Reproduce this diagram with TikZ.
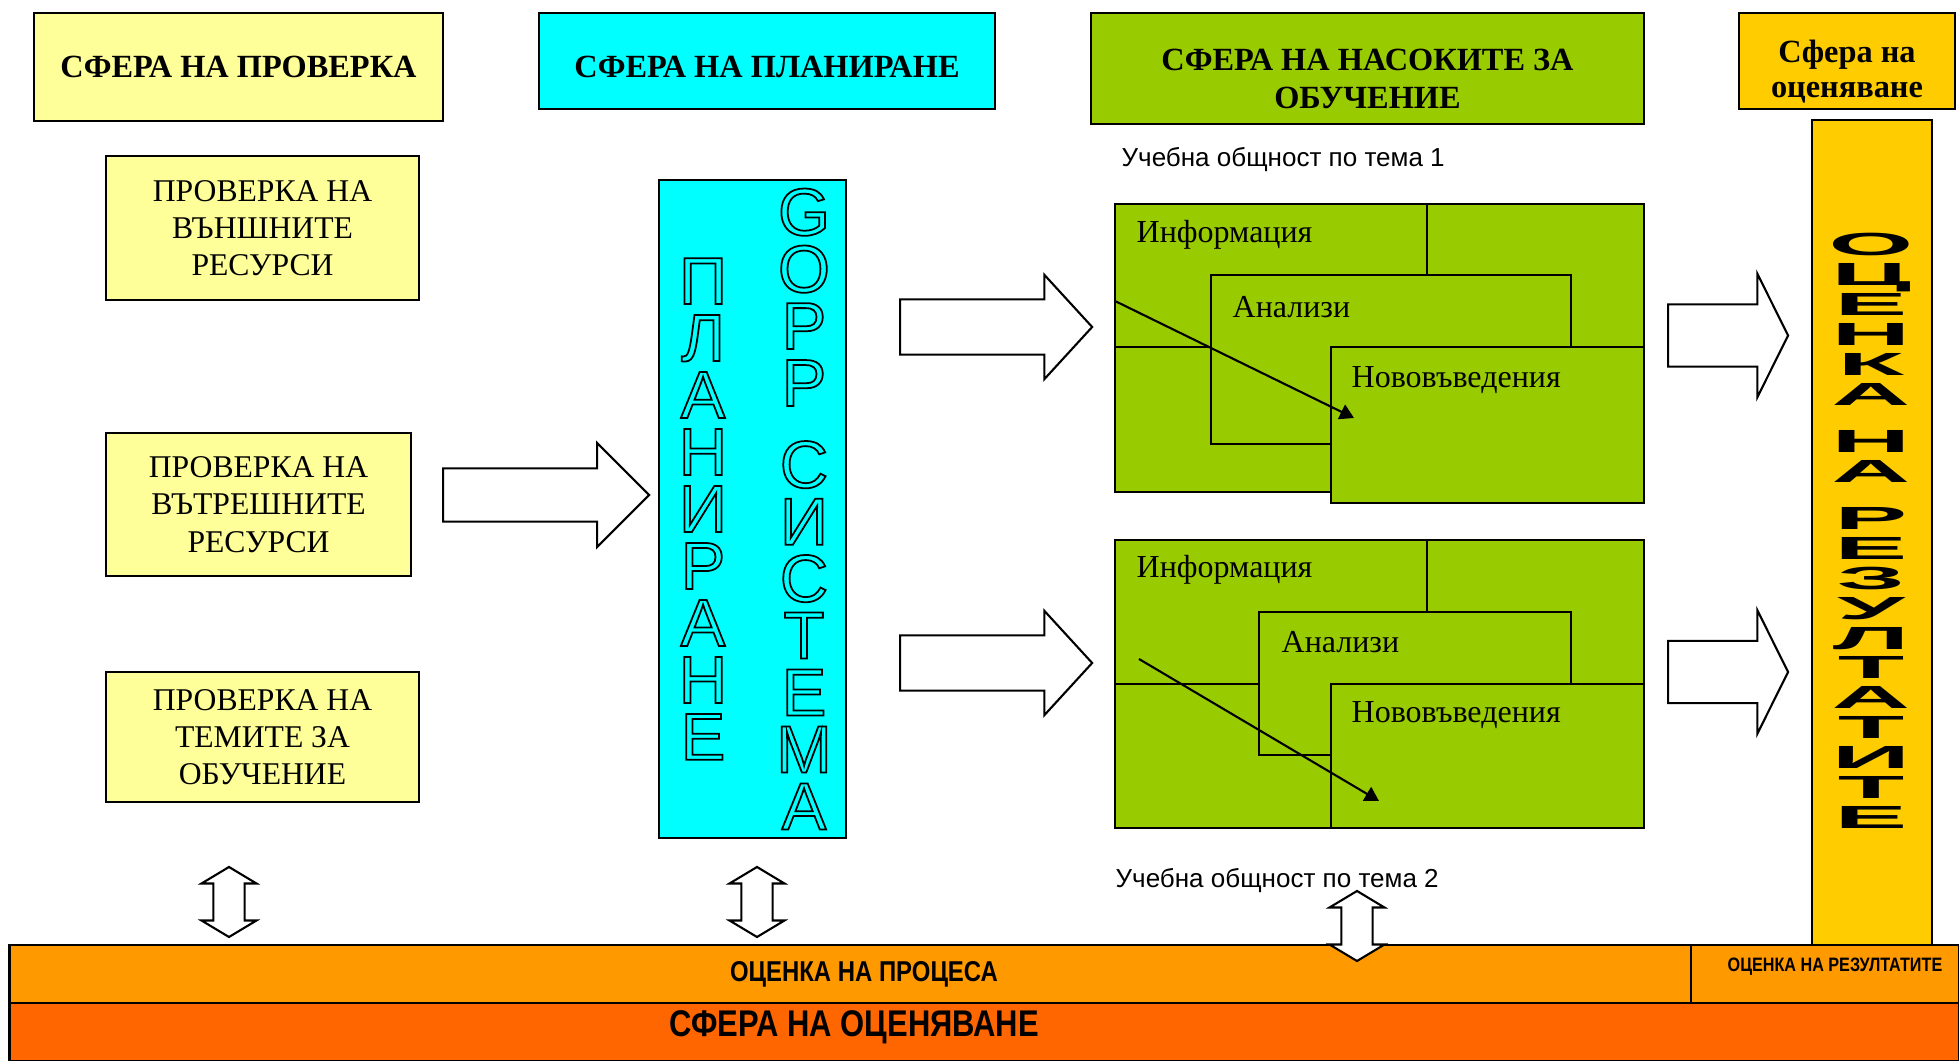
\documentclass[tikz,border=0pt]{standalone}
\usepackage{fontspec}
\setmainfont{Liberation Serif}
\setsansfont{Liberation Sans}
\usetikzlibrary{shapes.arrows,arrows.meta}

\begin{document}
\begin{tikzpicture}[x=0.01cm, y=-0.01cm]
      \useasboundingbox (0,0) rectangle (1959,1061);

      % Define colors
      \definecolor{checkcol}{RGB}{255,255,153}
      \definecolor{plancol}{RGB}{0,255,255}
      \definecolor{topiccol}{RGB}{153,204,0}
      \definecolor{evalcol}{RGB}{255,204,0}
      \definecolor{processcol}{RGB}{255,153,0}
      \definecolor{spherecol}{RGB}{255,102,0}

      % Define line width
      \def\lw{0.6pt}

      % Styles
      \tikzset{
        box/.style={draw, line width=\lw, inner sep=0pt, align=center},
        hdrtext/.style={inner sep=0pt, align=center, font=\bfseries\fontsize{9.2}{10.7}\selectfont},
        chk/.style={box, fill=checkcol, font=\fontsize{9}{10.6}\selectfont},
        grp/.style={draw, line width=\lw, fill=topiccol},
        lbl/.style={inner sep=0pt, anchor=west, font=\fontsize{9.1}{11}\selectfont},
        topic/.style={inner sep=0pt, anchor=west, font=\sffamily\fontsize{7.4}{9}\selectfont},
        bigarrow/.style={draw, line width=\lw, fill=white, single arrow, inner xsep=0pt, anchor=tail},
        updown/.style={draw, line width=\lw, fill=white, double arrow, inner xsep=0pt, inner ysep=1.45mm, rotate=90,
          minimum height=7mm, minimum width=5.3mm, double arrow head extend=1.2mm, double arrow tip angle=118},
        hollow/.style={align=center, inner sep=0pt, font=\sffamily\fontsize{19}{16.2}\selectfont,
          execute at begin node={\special{pdf:literal direct 1 Tr 0.5 w}},
          execute at end node={\special{pdf:literal direct 0 Tr}}},
        band/.style={draw, line width=0.8pt, inner sep=0pt},
        bandtext/.style={inner sep=0pt, yscale=1.2, transform shape, font=\sffamily\bfseries\fontsize{6.8}{8}\selectfont}
      }

      % Header boxes
      \node[box, fill=checkcol, minimum width=40.9mm, minimum height=10.8mm] (hcheck) at (238.5,67) {};
      \node[box, fill=plancol, minimum width=45.6mm, minimum height=9.6mm] (hplan) at (767,61) {};
      \node[box, fill=topiccol, minimum width=55.3mm, minimum height=11.1mm] (htopic) at (1367.5,68.5) {};
      \node[box, fill=evalcol, minimum width=21.6mm, minimum height=9.6mm] (heval) at (1847,61) {};
      \node[hdrtext] (hchecktext) at (238.5,67) {СФЕРА НА ПРОВЕРКА};
      \node[hdrtext] (hplantext) at (767,67) {СФЕРА НА ПЛАНИРАНЕ};
      \node[hdrtext] (htopictext) at (1367.5,79) {СФЕРА НА НАСОКИТЕ ЗА\\ОБУЧЕНИЕ};
      \node[hdrtext, font=\bfseries\fontsize{9.2}{10}\selectfont] (hevaltext) at (1847,72) {Сфера на\\оценяване};

      % Check boxes
      \node[chk, minimum width=31.3mm, minimum height=14.4mm] (cext) at (262.5,228) {ПРОВЕРКА НА\\ВЪНШНИТЕ\\РЕСУРСИ};
      \node[chk, minimum width=30.5mm, minimum height=14.3mm] (cint) at (258.5,504.5) {ПРОВЕРКА НА\\ВЪТРЕШНИТЕ\\РЕСУРСИ};
      \node[chk, minimum width=31.3mm, minimum height=13mm] (ctop) at (262.5,737) {ПРОВЕРКА НА\\ТЕМИТЕ ЗА\\ОБУЧЕНИЕ};

      % Arrow to planning
      \node[bigarrow, inner ysep=2.55mm, minimum height=20.6mm, minimum width=10.2mm, single arrow head extend=2.55mm, single arrow tip angle=90] (toplan) at (442,495) {};

      % Planning column
      \node[box, fill=plancol, minimum width=18.7mm, minimum height=65.8mm] (plan) at (752.5,509) {};
      \node[hollow] (planword) at (703,509) {П\\Л\\А\\Н\\И\\Р\\А\\Н\\Е};
      \node[hollow] (gopp) at (804,509) {G\\O\\P\\P\\[7pt]С\\И\\С\\Т\\Е\\М\\А};

      % Arrows to topics
      \node[bigarrow, inner ysep=2.65mm, minimum height=19.2mm, minimum width=10.2mm, single arrow head extend=2.45mm, single arrow tip angle=95] (totopA) at (899,327) {};
      \node[bigarrow, inner ysep=2.65mm, minimum height=19.2mm, minimum width=10.2mm, single arrow head extend=2.45mm, single arrow tip angle=95] (totopB) at (899,663) {};

      % Topic 1
      \node[topic] (topicA) at (1121,160) {Учебна общност по тема 1};
      \draw[grp] (1115,204) rectangle (1644,492);
      \draw[line width=\lw] (1427,204) -- (1427,492) (1115,347) -- (1644,347);
      \draw[grp] (1211,275) rectangle (1571,444);
      \draw[grp] (1331,347) rectangle (1644,503);
      \node[lbl] (infoA) at (1136,235) {Информация};
      \node[lbl] (anA) at (1232,307) {Анализи};
      \node[lbl] (novA) at (1351,380) {Нововъведения};
      \coordinate (fromA) at (1115,301);
      \coordinate (intoA) at (1354,418);
      \draw[line width=\lw, -{Triangle[width=1.6mm, length=1.4mm]}] (fromA) -- (intoA);

      % Topic 2
      \draw[grp] (1115,540) rectangle (1644,828);
      \draw[line width=\lw] (1427,540) -- (1427,828) (1115,684) -- (1644,684);
      \draw[grp] (1259,612) rectangle (1571,755);
      \draw[grp] (1331,684) rectangle (1644,828);
      \node[lbl] (infoB) at (1136,570) {Информация};
      \node[lbl] (anB) at (1281,642) {Анализи};
      \node[lbl] (novB) at (1351,715) {Нововъведения};
      \coordinate (fromB) at (1139,659);
      \coordinate (intoB) at (1379,801);
      \draw[line width=\lw, -{Triangle[width=1.6mm, length=1.4mm]}] (fromB) -- (intoB);
      \node[topic] (topicB) at (1115,881) {Учебна общност по тема 2};

      % Arrows to results
      \node[bigarrow, inner ysep=3mm, minimum height=12mm, minimum width=12.1mm, single arrow head extend=3.05mm, single arrow tip angle=127] (toresA) at (1667,335.5) {};
      \node[bigarrow, inner ysep=3mm, minimum height=12mm, minimum width=12.1mm, single arrow head extend=3.05mm, single arrow tip angle=127] (toresB) at (1667,672) {};

      % Results column
      \node[box, fill=evalcol, minimum width=12mm, minimum height=82.6mm] (res) at (1872,533) {};
      \node[align=center, inner sep=0pt, xscale=3.4, transform shape,
            font=\sffamily\bfseries\fontsize{9.1}{8.5}\selectfont] (resword) at (1871,531)
            {О\\Ц\\Е\\Н\\К\\А\\[4.9pt]Н\\А\\[4.9pt]Р\\Е\\З\\У\\Л\\Т\\А\\Т\\И\\Т\\Е};

      % Evaluation bands
      \node[band, fill=processcol, minimum width=168.1mm, minimum height=5.8mm] (proc) at (850.5,974) {};
      \node[band, fill=processcol, minimum width=26.8mm, minimum height=5.8mm] (resc) at (1825,974) {};
      \node[band, fill=spherecol, minimum width=194.9mm, minimum height=5.8mm] (sphere) at (984.5,1032) {};
      \node[bandtext] (proctext) at (864,974) {ОЦЕНКА НА ПРОЦЕСА};
      \node[bandtext, font=\sffamily\bfseries\fontsize{4.6}{6}\selectfont] (restext) at (1835,967) {ОЦЕНКА НА РЕЗУЛТАТИТЕ};
      \node[bandtext, font=\sffamily\bfseries\fontsize{8.8}{10}\selectfont] (spheretext) at (854,1027) {СФЕРА НА ОЦЕНЯВАНЕ};

      % Double arrows
      \node[updown] (udcheck) at (229,902) {};
      \node[updown] (udplan) at (757,902) {};
      \node[updown] (udtopic) at (1357,926) {};

    \end{tikzpicture}
\end{document}
